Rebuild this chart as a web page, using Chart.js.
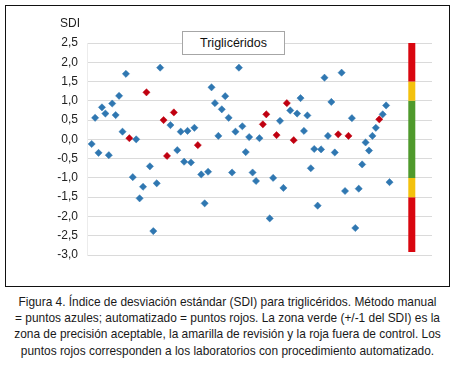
<!DOCTYPE html>
<html>
<head>
<meta charset="utf-8">
<script src="https://cdn.jsdelivr.net/npm/chart.js@4.4.1/dist/chart.umd.min.js"></script>
<style>
  body { margin: 0; background: #fff; width: 455px; height: 367px; position: relative; overflow: hidden; }
  #frame { position: absolute; left: 5px; top: 5px; width: 445px; height: 282px; box-sizing: border-box; border: 1.5px solid #111; }
  #chartWrap { position: absolute; left: 5px; top: 5px; width: 445px; height: 282px; }
  #sdiLabel { position: absolute; left: 60px; top: 16px; font: 12px "Liberation Sans Narrow", "Liberation Sans", sans-serif; color: #222; }
  #titleBox { position: absolute; left: 182px; top: 31px; width: 103px; height: 24px; box-sizing: border-box; border: 1px solid #a6a6a6; background: #fff;
    font: 12.5px "Liberation Sans Narrow", "Liberation Sans", sans-serif; color: #111; text-align: center; line-height: 22px; }
  #caption { position: absolute; left: -20px; top: 294px; width: 495px; text-align: center; font: 13px "Liberation Sans", Arial, sans-serif;
    line-height: 16.2px; color: #1a1a1a; white-space: nowrap; transform: scaleX(0.915); transform-origin: 50% 0; }
</style>
</head>
<body>
<div id="frame"></div>
<div id="chartWrap"><canvas id="sdiChart" width="445" height="282"></canvas></div>
<div id="sdiLabel">SDI</div>
<div id="titleBox">Triglicéridos</div>
<div id="caption">Figura 4. Índice de desviación estándar (SDI) para triglicéridos. Método manual<br>= puntos azules; automatizado = puntos rojos. La zona verde (+/-1 del SDI) es la<br>zona de precisión aceptable, la amarilla de revisión y la roja fuera de control. Los<br>puntos rojos corresponden a los laboratorios con procedimiento automatizado.</div>
<script>
// SDI por laboratorio (null = laboratorio del otro método)
const manualSDI = [
  -0.12, 0.56, -0.35, 0.83, 0.67, -0.41, 0.93, 0.63, 1.13, 0.20,
  1.70, null, -0.98, 0.00, -1.53, -1.23, null, -0.70, -2.38, -1.14,
  1.86, null, null, 0.37, null, -0.28, 0.20, -0.58, 0.22, -0.60,
  0.30, null, -0.91, -1.66, -0.84, 1.35, 0.94, 0.09, 0.78, 1.12,
  0.56, -0.86, 0.20, 1.86, 0.34, -0.33, 0.06, -0.86, -1.08, 0.03,
  null, null, -2.05, -1.00, null, 0.48, -1.26, null, 0.75, null,
  0.67, 1.07, 0.22, 0.62, -0.75, -0.25, -1.72, -0.26, 1.60, 0.09,
  0.97, -0.34, null, 1.73, -1.34, null, 0.55, -2.30, -1.28, -0.65,
  -0.08, -0.29, 0.09, 0.30, null, 0.65, 0.88, -1.11
];
const autoSDI = [
  null, null, null, null, null, null, null, null, null, null,
  null, 0.03, null, null, null, null, 1.22, null, null, null,
  null, 0.50, -0.43, null, 0.70, null, null, null, null, null,
  null, -0.15, null, null, null, null, null, null, null, null,
  null, null, null, null, null, null, null, null, null, null,
  0.39, 0.65, null, null, 0.11, null, null, 0.94, null, -0.02,
  null, null, null, null, null, null, null, null, null, null,
  null, null, 0.13, null, null, 0.09, null, null, null, null,
  null, null, null, null, 0.52, null, null, null
];
const labs = manualSDI.map((v, i) => i);

const yTicks = [2.5, 2.0, 1.5, 1.0, 0.5, 0.0, -0.5, -1.0, -1.5, -2.0, -2.5, -3.0];
const yTickLabels = ["2,5", "2,0", "1,5", "1,0", "0,5", "0,0", "-0,5", "-1,0", "-1,5", "-2,0", "-2,5", "-3,0"];

// zonas de control (barra lateral)
const zoneEdges = [2.5, 1.5, 1.0, -1.0, -1.5, -2.92];
const zoneColors = ["#d9060f", "#f3c10d", "#4f9a2c", "#f3c10d", "#d9060f"];
const zoneX = 93.5;

const toPoints = arr => arr.map((v, i) => v === null ? null : { x: labs[i], y: v }).filter(p => p);

const datasets = [
  {
    label: "Manual",
    data: toPoints(manualSDI),
    pointStyle: "rectRot",
    pointRadius: 3.6,
    backgroundColor: "#2f77b1",
    borderColor: "#2f77b1",
    borderWidth: 0.5,
    showLine: false
  },
  {
    label: "Automatizado",
    data: toPoints(autoSDI),
    pointStyle: "rectRot",
    pointRadius: 3.6,
    backgroundColor: "#c00010",
    borderColor: "#c00010",
    borderWidth: 0.5,
    showLine: false
  }
];

zoneColors.forEach((c, i) => {
  datasets.push({
    label: "zona" + i,
    data: [{ x: zoneX, y: zoneEdges[i] }, { x: zoneX, y: zoneEdges[i + 1] }],
    showLine: true,
    borderColor: c,
    borderWidth: 7,
    borderCapStyle: "butt",
    pointRadius: 0
  });
});

new Chart(document.getElementById("sdiChart"), {
  type: "scatter",
  data: { datasets: datasets },
  options: {
    responsive: false,
    animation: false,
    layout: { padding: { left: 0, right: 18, top: 38, bottom: 32 } },
    plugins: { legend: { display: false }, tooltip: { enabled: false } },
    scales: {
      x: { type: "linear", min: -1.37, max: 99.4, display: false },
      y: {
        min: -3.0,
        max: 2.5,
        afterFit: scale => { scale.width = 82; },
        afterBuildTicks: scale => { scale.ticks = yTicks.map(v => ({ value: v })); },
        ticks: {
          padding: 9,
          color: "#222",
          font: { family: "'Liberation Sans Narrow', 'Liberation Sans', sans-serif", size: 12 },
          callback: v => yTickLabels[yTicks.indexOf(v)]
        },
        grid: { color: "#dadada", lineWidth: 1, drawTicks: false },
        border: { color: "#ececec" }
      }
    }
  }
});
</script>
</body>
</html>
